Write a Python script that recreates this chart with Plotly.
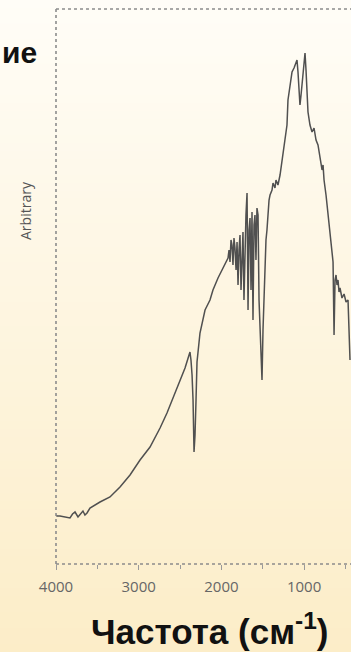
import plotly.graph_objects as go

# IR spectrum: wavenumber (cm-1) and intensity (arbitrary units)
wavenumber = [
    4000, 3988, 3952, 3891, 3831, 3800, 3770, 3734, 3700, 3674, 3650, 3625,
    3589, 3528, 3468, 3347, 3226, 3105, 2984, 2863, 2742, 2658, 2537, 2440,
    2380, 2368, 2355, 2343, 2331, 2319, 2307, 2295, 2259, 2222, 2198, 2138,
    2102, 2041, 1981, 1944, 1920, 1908, 1896, 1884, 1872, 1860, 1848, 1836,
    1823, 1811, 1799, 1787, 1775, 1763, 1751, 1739, 1727, 1715, 1703, 1690,
    1678, 1666, 1654, 1642, 1630, 1618, 1606, 1594, 1582, 1570, 1557, 1545,
    1533, 1521, 1509, 1497, 1485, 1473, 1461, 1449, 1436, 1424, 1412, 1388,
    1376, 1352, 1340, 1316, 1291, 1279, 1255, 1231, 1207, 1195, 1170, 1146,
    1122, 1098, 1086, 1074, 1062, 1050, 1037, 1025, 1013, 1001, 989, 977,
    965, 953, 929, 904, 880, 856, 832, 808, 783, 771, 759, 735,
    711, 687, 675, 662, 650, 638, 626, 614, 602, 590, 578, 566,
    542, 517, 493, 469, 457, 445,
]
intensity = [
    49, 48, 48, 47, 46, 50, 52, 47, 51, 53, 49, 51,
    56, 59, 62, 67, 77, 89, 104, 117, 136, 151, 176, 196,
    212, 204, 189, 164, 112, 129, 164, 202, 231, 244, 254, 264,
    274, 286, 296, 302, 306, 314, 302, 324, 319, 299, 326, 316,
    294, 322, 279, 314, 329, 274, 319, 332, 264, 324, 349, 371,
    254, 334, 346, 274, 352, 244, 339, 349, 304, 356, 349, 264,
    234, 214, 184, 234, 274, 294, 324, 334, 354, 364, 369, 374,
    381, 376, 384, 379, 389, 396, 406, 424, 439, 464, 479, 492,
    496, 502, 504, 492, 469, 459, 469, 479, 494, 506, 511, 494,
    476, 452, 439, 432, 436, 424, 419, 404, 394, 399, 384, 369,
    349, 332, 324, 309, 302, 229, 284, 289, 279, 284, 272, 276,
    266, 270, 262, 264, 224, 204,
]

x_labels = [4000, 3000, 2000, 1000]
x_range = [4000, 433]
y_range = [0, 555]

W, H = 351, 652
M_L, M_R, M_T, M_B = 56, 0, 9, 88
plot_h = H - M_T - M_B


def paper_y(py):
    return (H - M_B - py) / plot_h


def paper_x(px):
    return (px - M_L) / (W - M_L - M_R)


fig = go.Figure()
fig.add_trace(go.Scatter(
    x=wavenumber, y=intensity, mode="lines",
    line=dict(color="#505050", width=1.5),
    hoverinfo="skip", showlegend=False,
))

# Soft vertical background gradient (cream to pale yellow)
shapes = []
top_c = (255, 253, 247)
bot_c = (252, 237, 200)
n_bands = 82
for i in range(n_bands):
    t = i / (n_bands - 1)
    c = tuple(round(a + (b - a) * t) for a, b in zip(top_c, bot_c))
    y0 = i * H / n_bands
    y1 = (i + 1) * H / n_bands + 1
    shapes.append(dict(
        type="rect", xref="paper", yref="paper", layer="below",
        x0=paper_x(-2), x1=paper_x(W + 2), y0=paper_y(y1), y1=paper_y(y0),
        fillcolor="rgb(%d,%d,%d)" % c, line=dict(width=0),
    ))

# Dotted frame (left, top, bottom)
frame = dict(color="#8c8c8c", width=1.6, dash="dot")
shapes += [
    dict(type="line", xref="paper", yref="paper", x0=0, x1=0, y0=0, y1=1, line=frame),
    dict(type="line", xref="paper", yref="paper", x0=0, x1=1, y0=1, y1=1, line=frame),
    dict(type="line", xref="paper", yref="paper", x0=0, x1=1, y0=0, y1=0, line=frame),
]

annotations = [
    dict(text="Arbitrary", xref="paper", yref="paper", x=paper_x(26), y=paper_y(210),
         textangle=-90, showarrow=False, xanchor="center", yanchor="middle",
         font=dict(family="Open Sans", size=14, color="#555555")),
    dict(text="<b>ие</b>", xref="paper", yref="paper", x=paper_x(0), y=paper_y(53),
         showarrow=False, xanchor="left", yanchor="middle",
         font=dict(family="Liberation Sans, Arial", size=30, color="#111111")),
    dict(text="<b>Частота (см<sup>-1</sup>)</b>", xref="paper", yref="paper",
         x=paper_x(210), y=paper_y(629), showarrow=False,
         xanchor="center", yanchor="middle",
         font=dict(family="Liberation Sans, Arial", size=35, color="#111111")),
]

fig.update_layout(
    width=W, height=H,
    margin=dict(l=M_L, r=M_R, t=M_T, b=M_B, pad=0),
    paper_bgcolor="rgb(254,246,226)",
    plot_bgcolor="rgba(0,0,0,0)",
    shapes=shapes,
    annotations=annotations,
    showlegend=False,
    xaxis=dict(
        range=x_range, tickvals=x_labels, ticktext=[str(v) for v in x_labels],
        showgrid=False, zeroline=False, showline=False,
        ticks="outside", ticklen=5, tickwidth=1, tickcolor="#9a9a9a",
        ticklabelstandoff=4,
        minor=dict(dtick=500, tick0=0, ticks="outside", ticklen=4,
                   tickwidth=1, tickcolor="#9a9a9a", showgrid=False),
        tickfont=dict(family="Open Sans", size=15, color="#666666"),
    ),
    yaxis=dict(
        range=y_range, showgrid=False, zeroline=False, showline=False,
        showticklabels=False, ticks="",
    ),
)

fig.write_html("out.html", config=dict(displayModeBar=False))
